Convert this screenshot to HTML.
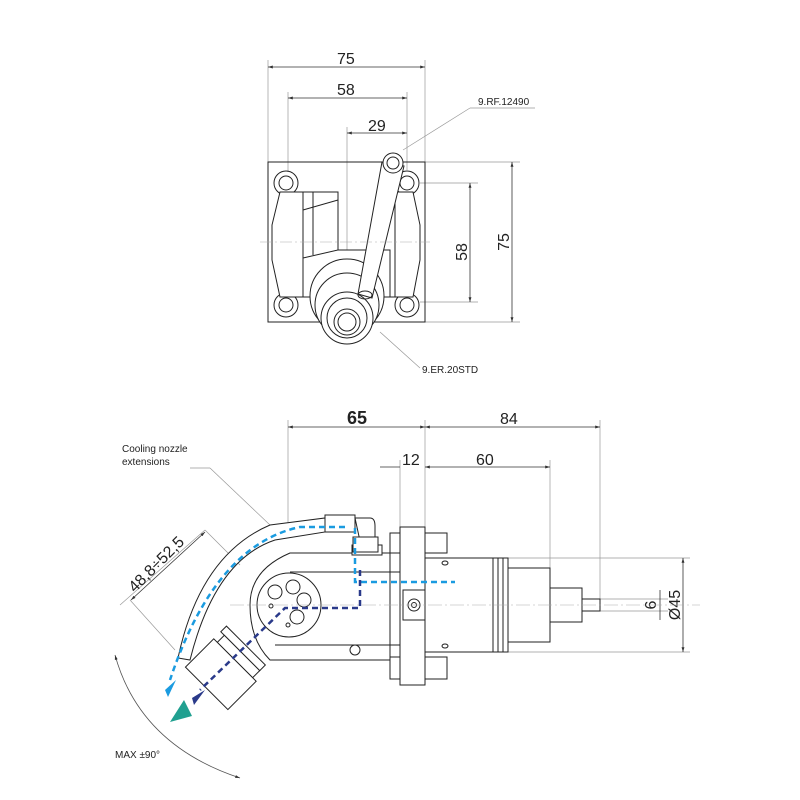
<!DOCTYPE html>
<html><head><style>body{margin:0;background:#fff}svg{display:block}</style></head><body>
<svg width="800" height="800" viewBox="0 0 800 800" xmlns="http://www.w3.org/2000/svg" font-family="Liberation Sans, sans-serif">
<defs>
<marker id="a" viewBox="0 0 10 10" refX="10" refY="5" markerWidth="6" markerHeight="6" orient="auto-start-reverse"><path d="M0,2L10,5L0,8z" fill="#333"/></marker>
</defs>
<g stroke="#999" stroke-width="0.7" fill="none">
<line x1="268" y1="60" x2="268" y2="162"/><line x1="425" y1="60" x2="425" y2="162"/>
<line x1="288" y1="92" x2="288" y2="172"/><line x1="407" y1="92" x2="407" y2="170"/>
<line x1="347" y1="127" x2="347" y2="250"/>
<line x1="425" y1="162" x2="520" y2="162"/><line x1="425" y1="322" x2="520" y2="322"/>
<line x1="420" y1="183" x2="478" y2="183"/><line x1="420" y1="302" x2="478" y2="302"/>
<line x1="288" y1="420" x2="288" y2="530"/><line x1="425" y1="420" x2="425" y2="527"/>
<line x1="600" y1="420" x2="600" y2="600"/><line x1="400" y1="460" x2="400" y2="527"/>
<line x1="550" y1="460" x2="550" y2="570"/>
<line x1="508" y1="558" x2="690" y2="558"/><line x1="508" y1="652" x2="690" y2="652"/>
<line x1="600" y1="599" x2="668" y2="599"/><line x1="600" y1="611" x2="668" y2="611"/>
<line x1="120" y1="605" x2="205" y2="530"/>
<line x1="205" y1="530" x2="240" y2="565"/><line x1="130" y1="600" x2="175" y2="650"/>
<line x1="190" y1="468" x2="210" y2="468"/><line x1="210" y1="468" x2="270" y2="525"/>
<line x1="403" y1="150" x2="470" y2="108"/><line x1="470" y1="108" x2="535" y2="108"/>
<line x1="380" y1="332" x2="420" y2="368"/>
</g>
<path d="M115,655 Q140,745 240,778" stroke="#555" stroke-width="0.8" fill="none" marker-start="url(#a)" marker-end="url(#a)"/>
<g stroke="#333" stroke-width="0.8" fill="none" marker-start="url(#a)" marker-end="url(#a)">
<line x1="268" y1="67" x2="425" y2="67"/>
<line x1="288" y1="98" x2="407" y2="98"/>
<line x1="347" y1="133" x2="407" y2="133"/>
<line x1="470" y1="183" x2="470" y2="302"/>
<line x1="512" y1="162" x2="512" y2="322"/>
<line x1="288" y1="427" x2="425" y2="427"/>
<line x1="425" y1="427" x2="600" y2="427"/>
<line x1="550" y1="467" x2="425" y2="467"/>
<line x1="683" y1="558" x2="683" y2="652"/>
<line x1="131" y1="600" x2="205" y2="532"/>
</g>
<g stroke="#333" stroke-width="0.8" fill="none">
<line x1="380" y1="467" x2="400" y2="467"/><line x1="660" y1="590" x2="660" y2="620"/>
</g>
<g font-size="16" fill="#222">
<text x="337" y="64">75</text><text x="337" y="95">58</text><text x="368" y="131">29</text>
<text x="467" y="252" transform="rotate(-90 467 252)" text-anchor="middle">58</text>
<text x="509" y="242" transform="rotate(-90 509 242)" text-anchor="middle">75</text>
<text x="347" y="424" font-weight="bold" font-size="18">65</text>
<text x="500" y="424">84</text><text x="402" y="465">12</text><text x="476" y="465">60</text>
<text x="656" y="605" transform="rotate(-90 656 605)" text-anchor="middle">6</text>
<text x="680" y="605" transform="rotate(-90 680 605)" text-anchor="middle">Ø45</text>
<text x="160" y="568" transform="rotate(-45 160 568)" text-anchor="middle">48,8÷52,5</text>
</g>
<g font-size="10" fill="#222">
<text x="478" y="105">9.RF.12490</text><text x="422" y="373">9.ER.20STD</text>
<text x="122" y="452">Cooling nozzle</text><text x="122" y="465">extensions</text>
<text x="115" y="758">MAX ±90°</text>
</g>
<!-- top view -->
<g stroke="#222" stroke-width="1" fill="none">
<rect x="268" y="162" width="157" height="160"/>
<circle cx="286" cy="183" r="12"/><circle cx="286" cy="183" r="7"/>
<circle cx="407" cy="183" r="12"/><circle cx="407" cy="183" r="7"/>
<circle cx="286" cy="305" r="12"/><circle cx="286" cy="305" r="7"/>
<circle cx="407" cy="305" r="12"/><circle cx="407" cy="305" r="7"/>
<path d="M280,192 L303,192 L303,297 L280,297 L272,260 L272,225 Z" fill="#fff"/>
<path d="M395,192 L413,192 L420,225 L420,260 L413,297 L395,297 Z" fill="#fff"/>
<path d="M303,192 L338,192 L338,250 L303,258"/><path d="M313,192 L313,255"/>
<path d="M303,210 L338,200"/>
<path d="M303,258 L303,297 M338,250 L390,250 L390,297 M303,297 L395,297"/>
<circle cx="347" cy="296" r="37" fill="#fff"/>
<circle cx="347" cy="305" r="32" fill="#fff"/>
<circle cx="347" cy="318" r="26" fill="#fff"/><circle cx="347" cy="318" r="20"/>
<circle cx="347" cy="322" r="13"/><circle cx="347" cy="322" r="9"/>
<path d="M382,162 L404,166 L372,298 L358,294 Z" fill="#fff"/>
<circle cx="393" cy="163" r="10" fill="#fff"/><circle cx="393" cy="163" r="6"/>
<ellipse cx="365" cy="295" rx="7" ry="4"/>
</g>
<g stroke="#aaa" stroke-width="0.6" stroke-dasharray="12,3,2,3"><line x1="260" y1="242" x2="430" y2="242"/></g>
<!-- bottom view -->
<g stroke="#222" stroke-width="1" fill="#fff">
<rect x="390" y="533" width="57" height="20"/><rect x="390" y="657" width="57" height="22"/>
<rect x="400" y="527" width="25" height="158"/>
<rect x="425" y="558" width="68" height="94"/>
<rect x="493" y="558" width="5" height="94"/><rect x="498" y="558" width="5" height="94"/><rect x="503" y="558" width="5" height="94"/>
<rect x="508" y="568" width="42" height="74"/>
<rect x="550" y="588" width="32" height="34"/>
<rect x="582" y="599" width="18" height="12"/>
<path d="M403,590 h22 v30 h-22 z"/><circle cx="414" cy="605" r="6"/><circle cx="414" cy="605" r="2.5"/>
<ellipse cx="445" cy="563" rx="3" ry="2"/><ellipse cx="445" cy="646" rx="3" ry="2"/>
<path d="M290,553 L390,553 L390,660 L270,660 Q250,640 250,605 Q250,570 290,553 Z"/>
<line x1="290" y1="572" x2="400" y2="572"/><line x1="275" y1="645" x2="400" y2="645"/>
<rect x="352" y="545" width="30" height="10"/>
<circle cx="355" cy="650" r="5"/>
<circle cx="289" cy="605" r="32"/>
<circle cx="275" cy="592" r="7"/><circle cx="293" cy="587" r="7"/><circle cx="304" cy="600" r="7"/><circle cx="297" cy="617" r="7"/>
<circle cx="271" cy="606" r="2"/><circle cx="288" cy="625" r="2"/>
<g transform="rotate(45 230 665)">
<rect x="200" y="640" width="55" height="8"/><rect x="205" y="648" width="50" height="10"/>
<rect x="200" y="658" width="60" height="40"/>
</g>
<path d="M270,525 L325,518 L325,532 L275,540 Q215,560 190,660 L178,658 Q200,555 270,525 Z"/>
<rect x="325" y="515" width="30" height="17"/><path d="M355,518 h15 q5,0 5,8 v15 h-15 z"/>
<rect x="353" y="537" width="25" height="15"/>
</g>
<g stroke="#aaa" stroke-width="0.6" stroke-dasharray="14,3,2,3" fill="none"><line x1="230" y1="605" x2="700" y2="605"/></g>
<g fill="none" stroke-width="2.5" stroke-dasharray="6,4">
<path d="M355,528 L355,582 L455,582" stroke="#1a9be0"/>
<path d="M345,527 L300,527 Q215,545 170,680" stroke="#1a9be0"/>
<path d="M360,570 L360,608 L285,608 L200,690" stroke="#2a3a8a"/>
</g>
<path d="M165,690 L176,680 L168,697 Z" fill="#1a9be0"/>
<path d="M192,698 L205,690 L194,705 Z" fill="#2a3a8a"/>
<path d="M170,722 L184,700 L192,716 Z" fill="#20a090"/>
</svg>
</body></html>
